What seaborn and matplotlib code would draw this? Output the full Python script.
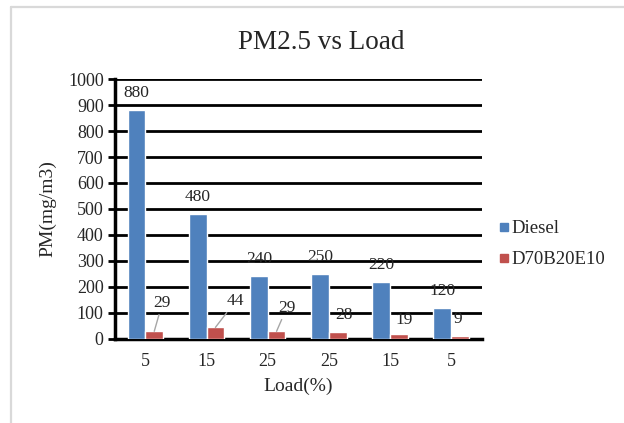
import matplotlib
matplotlib.use("Agg")
import matplotlib.pyplot as plt
from matplotlib.lines import Line2D
import seaborn as sns
import pandas as pd

loads = ["5", "15", "25", "25", "15", "5"]
diesel = [880, 480, 240, 250, 220, 120]
blend = [29, 44, 29, 28, 19, 9]
series_names = ["Diesel", "D70B20E10"]
yticks = list(range(0, 1001, 100))

rows = []
for i, (ld, d, b) in enumerate(zip(loads, diesel, blend)):
    rows.append({"pos": i, "load": ld, "series": series_names[0], "value": d})
    rows.append({"pos": i, "load": ld, "series": series_names[1], "value": b})
df = pd.DataFrame(rows)

sns.set_theme(style="white")
plt.rcParams["font.family"] = ["Liberation Serif", "DejaVu Serif"]

colors = ["#4F81BD", "#C0504D"]
fig = plt.figure(figsize=(6.24, 4.23), dpi=100)
ax = fig.add_axes([0.184, 0.199, 0.588, 0.614])

sns.barplot(data=df, x="pos", y="value", hue="series", palette=colors,
            width=0.58, ax=ax, legend=False, saturation=1, zorder=3)

ax.set_xlim(-0.5, 5.5)
ax.set_ylim(0, 1000)
ax.set_yticks(yticks)
ax.set_xticks(range(len(loads)))
ax.set_xticklabels(loads)
ax.tick_params(axis="x", length=0, labelsize=13, pad=10)
ax.tick_params(axis="y", length=5, width=2, labelsize=13, direction="out", left=True, color="black", pad=3)
for y in yticks[1:]:
    ax.axhline(y, color="black", lw=2, zorder=1)
for s in ["top", "right"]:
    ax.spines[s].set_visible(False)
ax.spines["left"].set_linewidth(2.5)
ax.spines["bottom"].set_linewidth(2.5)
ax.spines["left"].set_color("black")
ax.spines["bottom"].set_color("black")
ax.set_xlabel("Load(%)", fontsize=14, labelpad=6)
ax.set_ylabel("PM(mg/m3)", fontsize=14, labelpad=8)

# data labels
blue_bars = ax.containers[0]
red_bars = ax.containers[1]
for rect, v in zip(blue_bars, diesel):
    cx = rect.get_x() + rect.get_width() / 2
    ax.annotate(str(v), (cx, v), xytext=(0, 17), textcoords="offset pixels",
                ha="center", va="center", fontsize=12.5, zorder=5)
red_offsets = [(8, 28), (20, 26), (10, 23), (6, 17), (5, 14), (-2, 17)]
leaders = [True, True, True, False, False, False]
for rect, v, off, ldr in zip(red_bars, blend, red_offsets, leaders):
    cx = rect.get_x() + rect.get_width() / 2
    kw = {}
    if ldr:
        kw["arrowprops"] = dict(arrowstyle="-", color="#a6a6a6", lw=1, shrinkA=0, shrinkB=0)
    ax.annotate(str(v), (cx, v), xytext=off, textcoords="offset pixels",
                ha="center", va="center", fontsize=12.5, zorder=5, **kw)

fig.text(0.515, 0.9, "PM2.5 vs Load", ha="center", va="center", fontsize=19.5)

handles = [Line2D([0], [0], marker="s", color="none", markerfacecolor=c,
                  markeredgecolor=c, markersize=6) for c in colors]
fig.legend(handles, series_names, loc="upper left", bbox_to_anchor=(0.8, 0.48),
           frameon=False, fontsize=13.5, handlelength=0.5, handletextpad=0.15,
           labelspacing=0.75, borderaxespad=0, borderpad=0)

# outer chart border (partial, as in reference)
fig.add_artist(Line2D([11 / 624, 11 / 624], [0, 1 - 7 / 423], color="#d9d9d9", lw=1.6,
                      transform=fig.transFigure))
fig.add_artist(Line2D([11 / 624, 1], [1 - 7 / 423, 1 - 7 / 423], color="#d9d9d9", lw=1.6,
                      transform=fig.transFigure))

fig.savefig("out.png", dpi=100)
